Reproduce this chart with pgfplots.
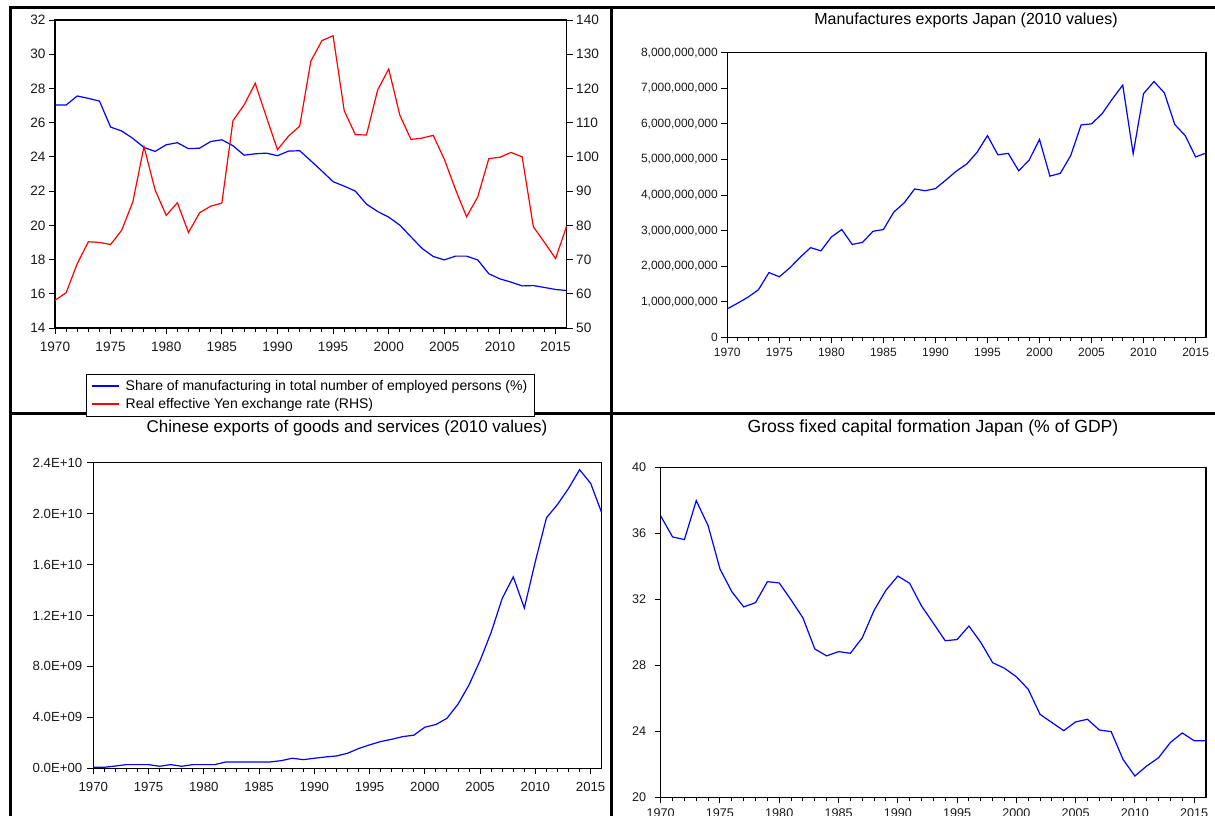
\documentclass[border=0pt]{standalone}
\usepackage{fontspec}
\setmainfont{Liberation Sans}
\usepackage{pgfplots}
\pgfplotsset{compat=1.18}
\pgfplotstableread{
year share reer
1970 27.03 58.1
1971 27.03 60.3
1972 27.56 68.8
1973 27.42 75.2
1974 27.26 75.0
1975 25.74 74.4
1976 25.51 78.6
1977 25.08 86.9
1978 24.55 103.0
1979 24.32 90.3
1980 24.71 82.9
1981 24.83 86.6
1982 24.48 77.9
1983 24.51 83.7
1984 24.90 85.6
1985 25.00 86.5
1986 24.65 110.6
1987 24.10 115.2
1988 24.18 121.5
1989 24.22 111.7
1990 24.07 102.1
1991 24.34 106.1
1992 24.36 109.0
1993 23.77 128.0
1994 23.17 134.0
1995 22.55 135.4
1996 22.29 113.5
1997 22.00 106.5
1998 21.24 106.4
1999 20.81 119.5
2000 20.48 125.7
2001 20.01 112.2
2002 19.33 105.1
2003 18.65 105.5
2004 18.18 106.3
2005 17.98 99.3
2006 18.20 90.5
2007 18.20 82.5
2008 17.98 88.3
2009 17.17 99.5
2010 16.87 99.9
2011 16.68 101.3
2012 16.46 100.0
2013 16.48 79.6
2014 16.37 75.0
2015 16.25 70.3
2016 16.19 79.8
}\tlTable
\pgfplotstableread{
year manuf china gfcf
1970 0.80e9 0.08e9 37.05
1971 0.96e9 0.08e9 35.78
1972 1.13e9 0.18e9 35.62
1973 1.34e9 0.29e9 37.98
1974 1.82e9 0.29e9 36.46
1975 1.70e9 0.29e9 33.84
1976 1.95e9 0.16e9 32.46
1977 2.25e9 0.29e9 31.54
1978 2.52e9 0.16e9 31.80
1979 2.43e9 0.29e9 33.07
1980 2.82e9 0.29e9 32.99
1981 3.03e9 0.29e9 31.96
1982 2.61e9 0.50e9 30.87
1983 2.67e9 0.50e9 28.99
1984 2.98e9 0.50e9 28.57
1985 3.03e9 0.50e9 28.83
1986 3.52e9 0.50e9 28.73
1987 3.78e9 0.60e9 29.66
1988 4.17e9 0.79e9 31.33
1989 4.12e9 0.68e9 32.55
1990 4.18e9 0.79e9 33.41
1991 4.42e9 0.89e9 32.97
1992 4.67e9 0.97e9 31.60
1993 4.87e9 1.18e9 30.55
1994 5.20e9 1.55e9 29.49
1995 5.67e9 1.84e9 29.56
1996 5.13e9 2.10e9 30.38
1997 5.17e9 2.28e9 29.39
1998 4.68e9 2.49e9 28.16
1999 4.98e9 2.60e9 27.82
2000 5.56e9 3.23e9 27.31
2001 4.53e9 3.44e9 26.55
2002 4.61e9 3.93e9 25.03
2003 5.11e9 5.04e9 24.53
2004 5.97e9 6.56e9 24.04
2005 6.00e9 8.47e9 24.57
2006 6.28e9 10.68e9 24.73
2007 6.70e9 13.35e9 24.08
2008 7.09e9 15.03e9 23.98
2009 5.16e9 12.59e9 22.30
2010 6.85e9 16.26e9 21.29
2011 7.19e9 19.67e9 21.90
2012 6.87e9 20.72e9 22.40
2013 5.98e9 21.98e9 23.33
2014 5.67e9 23.45e9 23.90
2015 5.07e9 22.38e9 23.43
2016 5.18e9 20.07e9 23.43
}\otherTable
\pgfplotsset{
  ev/.style={
    scale only axis,
    xmin=1970, xmax=2016,
    xtick={1970,1975,...,2015},
    minor x tick num=4,
    tick align=outside,
    xtick pos=bottom, ytick pos=left,
    major tick length=6pt, minor tick length=4pt,
    tick style={black, line width=1pt},
    axis line style={line width=1.3pt},
    /pgf/number format/assume math mode=true,
    /pgf/number format/1000 sep={},
    tick label style={font=\fontsize{#1}{#1}\selectfont, text=black!90},
    every axis plot/.append style={line width=1.2pt},
    scaled y ticks=false,
  }
}
\begin{document}
\begin{tikzpicture}[x=1pt,y=1pt]
\path[use as bounding box] (0,0) rectangle (1215,-816);
\clip (0,0) rectangle (1215,-816);
% panel frames
\draw[line width=3pt] (10,-7.5) -- (1230,-7.5);
\draw[line width=3pt] (10,-6) -- (10,-830);
\draw[line width=3pt] (611.5,-6) -- (611.5,-830);
\draw[line width=3pt] (8.5,-413) -- (1230,-413);

% top-left: share of manufacturing + REER
\begin{axis}[ev=13.6, at={(55pt,-328pt)}, anchor=south west,
  width=511.7pt, height=308pt,
  xticklabel style={yshift=-4pt},
  ymin=14, ymax=32, ytick={14,16,...,32}]
\addplot[blue] table[x=year, y=share] {\tlTable};
\end{axis}
\begin{axis}[ev=13.6, at={(55pt,-328pt)}, anchor=south west,
  width=511.7pt, height=308pt,
  ymin=50, ymax=140, ytick={50,60,...,140},
  axis x line=none, ytick pos=right,
  legend style={at={(0.0606,-0.149)}, anchor=north west,
    fill=white, font=\fontsize{14}{15}\selectfont, row sep=2.5pt, column sep=4pt,
    inner xsep=5pt, inner ysep=4pt, cells={anchor=west}},
  legend image post style={xscale=1.6, line width=1.2pt}]
\addlegendimage{blue, line width=1.2pt}
\addlegendentry{Share of manufacturing in total number of employed persons (\%)}
\addplot[red] table[x=year, y=reer] {\tlTable};
\addlegendentry{Real effective Yen exchange rate (RHS)}
\end{axis}

% top-right: manufactures exports Japan
\begin{axis}[ev=12, at={(727.3pt,-337.3pt)}, anchor=south west,
  width=478.7pt, height=284.6pt,
  xticklabel style={yshift=-1pt},
  ymin=0, ymax=8e9, ytick={0,1e9,2e9,3e9,4e9,5e9,6e9,7e9,8e9},
  yticklabels={0,{1,000,000,000},{2,000,000,000},{3,000,000,000},{4,000,000,000},{5,000,000,000},{6,000,000,000},{7,000,000,000},{8,000,000,000}}]
\addplot[blue] table[x=year, y=manuf] {\otherTable};
\end{axis}
\node[font=\fontsize{16}{18}\selectfont] at (966,-20) {Manufactures exports Japan (2010 values)};

% bottom-left: Chinese exports
\begin{axis}[ev=13.2, at={(93.3pt,-768.3pt)}, anchor=south west,
  width=508.4pt, height=305.6pt,
  yticklabel style={xshift=-1.5pt},
  xticklabel style={yshift=-4pt},
  ymin=0, ymax=2.4e10, ytick={0,4e9,8e9,1.2e10,1.6e10,2e10,2.4e10},
  yticklabels={0.0E+00,4.0E+09,8.0E+09,1.2E+10,1.6E+10,2.0E+10,2.4E+10}]
\addplot[blue] table[x=year, y=china] {\otherTable};
\end{axis}
\node[font=\fontsize{17}{19}\selectfont] at (347,-428) {Chinese exports of goods and services (2010 values)};

% bottom-right: GFCF Japan
\begin{axis}[ev=12.6, at={(660.7pt,-797.3pt)}, anchor=south west,
  width=545.3pt, height=330pt,
  yticklabel style={xshift=-5pt},
  xticklabel style={yshift=-2pt},
  ymin=20, ymax=40, ytick={20,24,...,40}]
\addplot[blue] table[x=year, y=gfcf] {\otherTable};
\end{axis}
\node[font=\fontsize{17.6}{19}\selectfont] at (933,-428) {Gross fixed capital formation Japan (\% of GDP)};
\end{tikzpicture}
\end{document}
